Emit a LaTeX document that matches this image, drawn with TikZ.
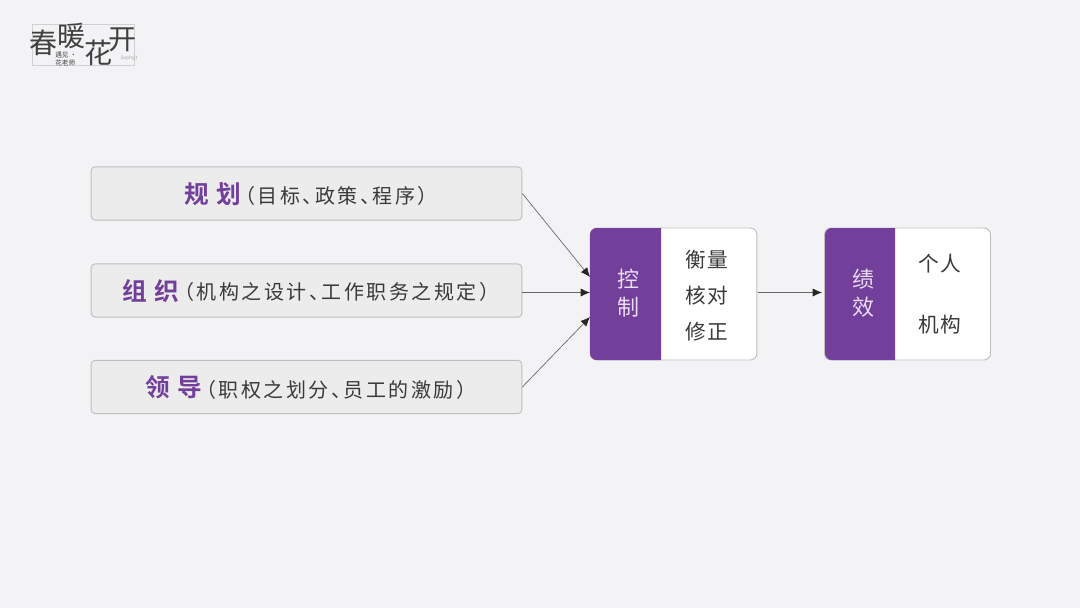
\documentclass[tikz,border=0pt]{standalone}
\usepackage{fontspec}
\usepackage{tikz}
\setmainfont{Noto Sans CJK SC}
\newfontfamily\subfont[LetterSpace=12.5,RawFeature=+halt]{Noto Sans CJK SC}
\newfontfamily\headfont[LetterSpace=30,BoldFont={* Bold}]{Noto Sans CJK SC}
\newfontfamily\itemfont[LetterSpace=5]{Noto Sans CJK SC}
\definecolor{bgcol}{HTML}{F3F3F5}
\definecolor{boxcol}{HTML}{ECECEC}
\definecolor{rimcol}{HTML}{BEBEBE}
\definecolor{purp}{HTML}{723F9B}
\definecolor{lilac}{HTML}{EBDDF5}
\definecolor{inkcol}{HTML}{3A3A3A}
\usetikzlibrary{arrows.meta}
\tikzset{
  rowbox/.style={draw=rimcol,fill=boxcol,rounded corners=3pt,line width=0.7pt,minimum width=323pt,minimum height=40pt,inner sep=0pt},
  headtext/.style={inner sep=0pt,anchor=base west,text=purp,font=\headfont\fontsize{18.5}{20}\selectfont\bfseries},
  rowtext/.style={inner sep=0pt,anchor=base west,text=inkcol,font=\subfont\fontsize{15}{20}\selectfont},
  whitebox/.style={draw=rimcol,fill=white,rounded corners=5pt,line width=0.7pt,minimum height=99pt,inner sep=0pt},
  sidetext/.style={text=lilac,font=\itemfont\fontsize{16.5}{21}\selectfont,align=center,inner sep=0pt},
  itemtext/.style={text=inkcol,font=\itemfont\fontsize{15.5}{20}\selectfont,inner sep=0pt},
  link/.style={draw=black!60,line width=0.5pt,-{Latex[black!85,length=7pt,width=6pt]}},
  logotext/.style={text=black!75,inner sep=0pt,font=\fontsize{21}{21}\selectfont}
}
\begin{document}
\begin{tikzpicture}[x=0.75pt,y=-0.75pt]
   \useasboundingbox[fill=bgcol] (0,0) rectangle (1080,608);
   % logo
   \draw[color=black!18,line width=0.4pt] (32,24) rectangle (134,65);
   \node[logotext] (chun) at (43,43) {春};
   \node[logotext] (nuan) at (71,36) {暖};
   \node[logotext] (hua) at (98,53) {花};
   \node[logotext] (kai) at (122,40) {开};
   \node[inner sep=0pt,text=black!75,font=\fontsize{5}{6.5}\selectfont,align=left] (meet) at (66,59) {遇见 ·\\花老师};
   \node[inner sep=0pt,text=black!35,font=\fontsize{3.5}{4}\selectfont] (sign) at (129,58) {Sophyjt};
   % left rows
   \node[rowbox] (plan) at (306.5,193.5) {};
   \node[rowbox] (organize) at (306.5,290.5) {};
   \node[rowbox] (lead) at (306.5,387) {};
   \node[headtext] (planhead) at (184,203) {规划};
   \node[rowtext] (plantext) at (245,203) {（目标、政策、程序）};
   \node[headtext] (orghead) at (122,300) {组织};
   \node[rowtext] (orgtext) at (184,299) {（机构之设计、工作职务之规定）};
   \node[headtext] (leadhead) at (145,396) {领导};
   \node[rowtext] (leadtext) at (206,397) {（职权之划分、员工的激励）};
   % control
   \node[whitebox,minimum width=125pt] (control) at (673.5,294) {};
   \fill[purp,rounded corners=5pt] (661,228) -- (590,228) -- (590,360) -- (661,360);
   \fill[purp] (650,228) rectangle (661,360);
   \node[sidetext] (controltext) at (628,293) {控\\制};
   \node[itemtext] (measure) at (707,260) {衡量};
   \node[itemtext] (check) at (707,296) {核对};
   \node[itemtext] (correct) at (707,332) {修正};
   % performance
   \node[whitebox,minimum width=124.5pt] (perf) at (907.5,294) {};
   \fill[purp,rounded corners=5pt] (895,228) -- (825,228) -- (825,360) -- (895,360);
   \fill[purp] (885,228) rectangle (895,360);
   \node[sidetext] (perftext) at (863.5,293) {绩\\效};
   \node[itemtext] (person) at (940,264) {个人};
   \node[itemtext] (org) at (940,325) {机构};
   % connectors
   \coordinate (ctrlhigh) at (590,277);
   \coordinate (ctrlmid) at (590,292.5);
   \coordinate (ctrllow) at (590,317);
   \coordinate (perfin) at (822,292.5);
   \coordinate (ctrlout) at (757.5,292.5);
   \draw[link] (plan.east) -- (ctrlhigh);
   \draw[link] (organize.east |- ctrlmid) -- (ctrlmid);
   \draw[link] (lead.east) -- (ctrllow);
   \draw[link] (ctrlout) -- (perfin);
  \end{tikzpicture}
\end{document}
